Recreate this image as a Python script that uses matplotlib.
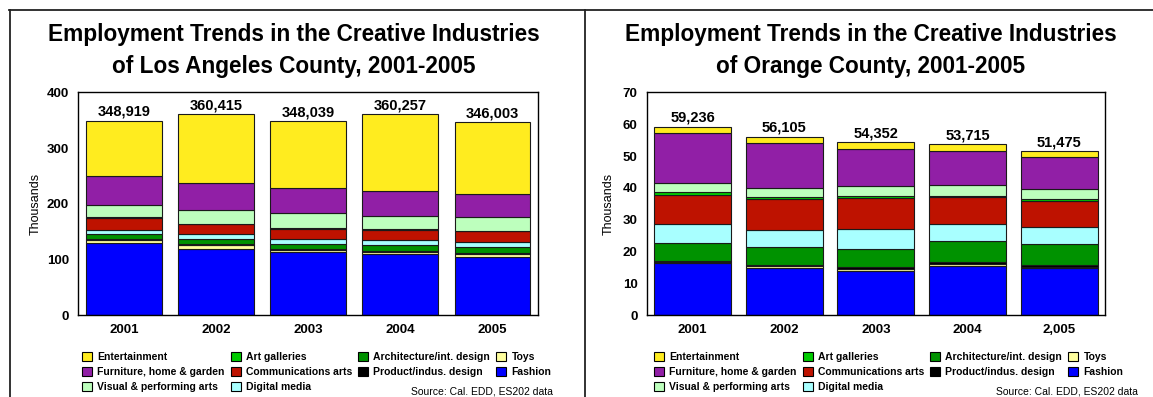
import matplotlib
matplotlib.use("Agg")
import matplotlib.pyplot as plt
import numpy as np
from matplotlib.patches import Patch
from matplotlib.lines import Line2D

plt.rcParams['font.family'] = ['Liberation Sans', 'DejaVu Sans']

# ---------------- data (thousands of jobs) ----------------
years_la = ["2001", "2002", "2003", "2004", "2005"]
years_oc = ["2001", "2002", "2003", "2004", "2,005"]

series = ["Fashion", "Toys", "Product/indus. design", "Architecture/int. design",
          "Digital media", "Communications arts", "Art galleries",
          "Visual & performing arts", "Furniture, home & garden", "Entertainment"]

colors = {
    "Entertainment": "#FFEC1F",
    "Furniture, home & garden": "#911FA6",
    "Visual & performing arts": "#BDFFBD",
    "Art galleries": "#00CC00",
    "Communications arts": "#BE1200",
    "Digital media": "#A8FFFF",
    "Architecture/int. design": "#009200",
    "Product/indus. design": "#000000",
    "Toys": "#FFFF9E",
    "Fashion": "#0000FF",
}

# Los Angeles County
la_fashion = [129.0, 119.5, 113.0, 109.5, 105.2]
la_toys = [5.5, 6.0, 4.2, 4.5, 5.3]
la_product = [1.5, 1.5, 1.2, 1.7, 2.0]
la_architecture = [9.5, 10.0, 9.6, 10.0, 10.5]
la_digital = [7.5, 8.0, 8.0, 9.3, 8.8]
la_communications = [21.5, 18.0, 18.8, 18.5, 19.0]
la_art = [1.5, 1.5, 1.5, 1.5, 1.2]
la_visual = [21.5, 24.5, 26.7, 23.8, 24.0]
la_furniture = [51.5, 47.5, 44.8, 44.2, 41.0]
la_entertainment = [99.9, 123.9, 120.2, 137.3, 129.0]
la_totals = ["348,919", "360,415", "348,039", "360,257", "346,003"]

# Orange County
oc_fashion = [16.3, 14.8, 14.0, 15.6, 14.7]
oc_toys = [0.4, 0.6, 0.6, 0.5, 0.6]
oc_product = [0.5, 0.3, 0.5, 0.7, 0.6]
oc_architecture = [5.5, 5.6, 5.7, 6.4, 6.4]
oc_digital = [6.0, 5.4, 6.2, 5.5, 5.4]
oc_communications = [9.2, 9.7, 9.8, 8.3, 8.1]
oc_art = [0.7, 0.6, 0.6, 0.6, 0.6]
oc_visual = [2.8, 2.85, 3.2, 3.2, 3.2]
oc_furniture = [15.7, 14.15, 11.7, 10.9, 10.1]
oc_entertainment = [2.1, 2.1, 2.05, 2.0, 1.8]
oc_totals = ["59,236", "56,105", "54,352", "53,715", "51,475"]

la_data = [la_fashion, la_toys, la_product, la_architecture, la_digital,
           la_communications, la_art, la_visual, la_furniture, la_entertainment]
oc_data = [oc_fashion, oc_toys, oc_product, oc_architecture, oc_digital,
           oc_communications, oc_art, oc_visual, oc_furniture, oc_entertainment]

legend_order = ["Entertainment", "Furniture, home & garden", "Visual & performing arts",
                "Art galleries", "Communications arts", "Digital media",
                "Architecture/int. design", "Product/indus. design", "Toys", "Fashion"]

# ---------------- figure ----------------
W, H = 1153, 397
fig = plt.figure(figsize=(W / 100, H / 100), dpi=100)


def ax_rect(x0, y0, x1, y1):
    return [x0 / W, 1 - y1 / H, (x1 - x0) / W, (y1 - y0) / H]


def draw_panel(ax, data, cats, totals, ymax, step, width):
    x = np.arange(len(cats))
    bottom = np.zeros(len(cats))
    for name, vals in zip(series, data):
        vals = np.array(vals, dtype=float)
        ax.bar(x, vals, width=width, bottom=bottom, color=colors[name],
               edgecolor="#1a1a1a", linewidth=0.8, zorder=2)
        bottom += vals
    for xi, top, lab in zip(x, bottom, totals):
        ax.annotate(lab, (xi, top), xytext=(0, 1.5), textcoords="offset points",
                    ha="center", va="bottom", fontsize=10.5, fontweight="bold")
    ax.set_xlim(-0.5, len(cats) - 0.5)
    ax.set_ylim(0, ymax)
    ax.set_yticks(np.arange(0, ymax + step / 2, step))
    ax.set_xticks(x)
    ax.set_xticklabels(cats)
    ax.tick_params(length=0)
    ax.tick_params(axis="y", pad=6.5, labelsize=9.5)
    ax.tick_params(axis="x", pad=6, labelsize=9.5)
    for lab in ax.get_xticklabels() + ax.get_yticklabels():
        lab.set_fontweight("bold")
    for sp in ax.spines.values():
        sp.set_color("black")
        sp.set_linewidth(1.0)


ax1 = fig.add_axes(ax_rect(78, 92.3, 538.3, 315.3))
draw_panel(ax1, la_data, years_la, la_totals, 400, 100, 0.82)
ax2 = fig.add_axes(ax_rect(646.7, 92.3, 1105, 315.3))
draw_panel(ax2, oc_data, years_oc, oc_totals, 70, 10, 0.84)

fig.text(36 / W, 1 - 204 / H, "Thousands", rotation=90, ha="center", va="center", fontsize=9)
fig.text(609 / W, 1 - 204 / H, "Thousands", rotation=90, ha="center", va="center", fontsize=9)

# titles
for cx, l2 in [(294, "of Los Angeles County, 2001-2005"), (871, "of Orange County, 2001-2005")]:
    fig.text(cx / W, 1 - 34 / H, "Employment Trends in the Creative Industries",
             ha="center", va="center", fontsize=16.3, fontweight="bold")
    fig.text(cx / W, 1 - 66 / H, l2, ha="center", va="center", fontsize=16.3, fontweight="bold")

# legends
handles = [Patch(facecolor=colors[n], edgecolor="black", linewidth=0.8) for n in legend_order]
for lx in [82, 654]:
    fig.legend(handles, legend_order, ncol=4, loc="upper left",
               bbox_to_anchor=(lx / W, 1 - 352 / H), frameon=False,
               prop={"size": 7.5, "weight": "bold"}, borderpad=0, borderaxespad=0,
               handlelength=0.95, handleheight=0.95, handletextpad=0.5,
               columnspacing=0.6, labelspacing=0.45)

fig.text(553 / W, 1 - 391.5 / H, "Source: Cal. EDD, ES202 data", ha="right", va="center", fontsize=7.5)
fig.text(1138 / W, 1 - 391.5 / H, "Source: Cal. EDD, ES202 data", ha="right", va="center", fontsize=7.5)

# page frame lines
lc = "#222222"
fig.add_artist(Line2D([9 / W, 1], [1 - 9.5 / H, 1 - 9.5 / H], color=lc, lw=1.3, transform=fig.transFigure))
fig.add_artist(Line2D([9.5 / W, 9.5 / W], [0, 1 - 9.5 / H], color=lc, lw=1.3, transform=fig.transFigure))
fig.add_artist(Line2D([585 / W, 585 / W], [0, 1 - 9.5 / H], color=lc, lw=1.3, transform=fig.transFigure))

fig.savefig("out.png", dpi=100)
